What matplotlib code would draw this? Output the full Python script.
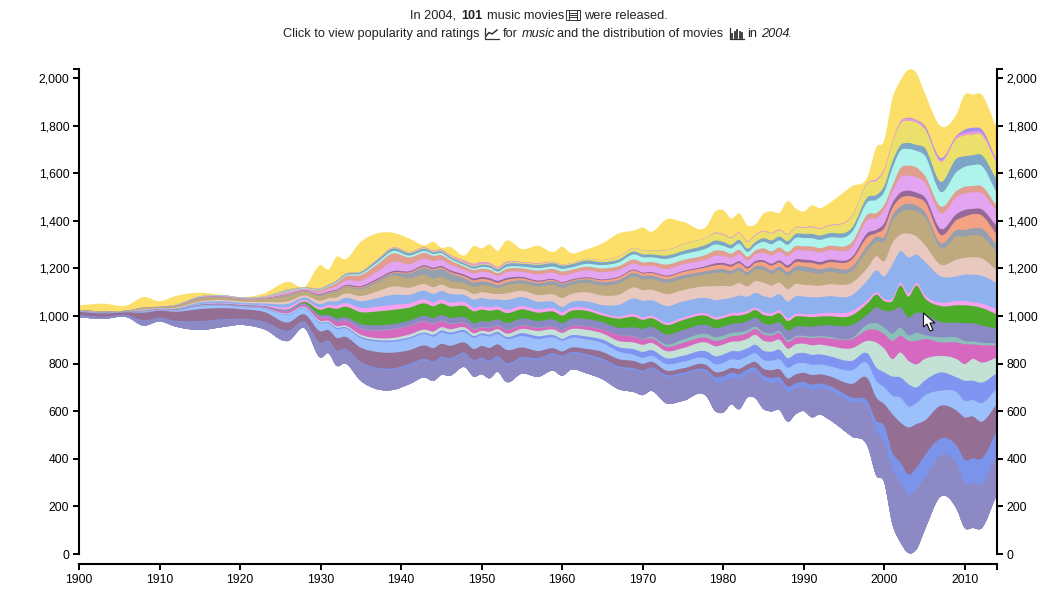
"""Streamgraph of movies released per genre, 1900-2014."""

import matplotlib

matplotlib.use("Agg")
import matplotlib.pyplot as plt  # noqa: E402
import numpy as np  # noqa: E402
from matplotlib.patches import PathPatch, Polygon, Rectangle  # noqa: E402
from matplotlib.path import Path  # noqa: E402
from matplotlib.transforms import Affine2D  # noqa: E402

W, H = 1058, 590
FONT = "Liberation Sans"

years = [1900, 1903, 1906, 1908, 1910, 1912, 1915, 1918, 1920, 1923,
         1926, 1928, 1930, 1931, 1932, 1933, 1935, 1937, 1939, 1941,
         1943, 1944, 1945, 1946, 1948, 1949, 1950, 1951, 1952, 1953,
         1955, 1957, 1959, 1960, 1961, 1963, 1965, 1967, 1969, 1970,
         1971, 1973, 1975, 1978, 1979, 1980, 1981, 1982, 1983, 1984,
         1985, 1986, 1987, 1988, 1989, 1990, 1991, 1992, 1993, 1996,
         1998, 1999, 2000, 2001, 2002, 2003, 2004, 2005, 2007, 2009,
         2010, 2011, 2012, 2014]

# all movies per year; the top band is whatever the others leave of this
totals = [50, 64, 50, 120, 84, 128, 156, 130, 114, 150,
          248, 140, 388, 352, 458, 436, 584, 654, 660, 612,
          556, 584, 534, 542, 472, 548, 528, 562, 508, 590,
          522, 550, 500, 542, 492, 520, 570, 654, 680, 704,
          668, 774, 752, 720, 836, 850, 780, 822, 724, 730,
          820, 840, 828, 926, 864, 838, 890, 866, 902, 1052,
          1144, 1376, 1436, 1784, 1938, 2030, 2000, 1840, 1556, 1660,
          1820, 1820, 1826, 1534]

purple = [8, 8, 8, 20, 14, 22, 35, 30, 24, 30,
          40, 25, 58, 50, 62, 58, 75, 85, 84, 78,
          72, 75, 70, 68, 55, 64, 62, 68, 58, 72,
          62, 70, 68, 80, 68, 72, 78, 88, 92, 95,
          90, 110, 108, 100, 122, 127, 110, 125, 100, 110,
          120, 118, 115, 122, 108, 100, 115, 110, 120, 143,
          165, 186, 165, 229, 250, 241, 253, 215, 171, 188,
          184, 191, 180, 174]
blue = [1, 1, 1, 2, 1, 2, 2, 2, 2, 2,
        3, 2, 3, 3, 3, 3, 4, 5, 6, 6,
        6, 6, 6, 6, 6, 6, 7, 7, 7, 7,
        7, 8, 6, 5, 6, 8, 8, 8, 8, 8,
        8, 9, 10, 12, 20, 25, 22, 22, 18, 18,
        20, 22, 22, 24, 22, 22, 22, 20, 20, 20,
        24, 42, 72, 70, 84, 88, 91, 98, 72, 77,
        102, 101, 112, 91]
mauve = [14, 14, 12, 32, 30, 38, 50, 46, 40, 40,
         34, 30, 48, 44, 52, 50, 60, 66, 66, 58,
         56, 56, 54, 52, 42, 46, 49, 52, 50, 55,
         40, 30, 20, 17, 18, 22, 28, 30, 30, 28,
         24, 18, 18, 20, 20, 21, 20, 22, 20, 24,
         28, 32, 33, 35, 37, 38, 40, 38, 40, 58,
         98, 98, 91, 161, 168, 198, 182, 147, 138, 147,
         178, 176, 157, 112]
light_blue = [1, 1, 1, 2, 2, 4, 12, 10, 9, 14,
              32, 25, 34, 30, 38, 36, 40, 44, 46, 48,
              48, 48, 48, 48, 44, 46, 46, 48, 44, 46,
              48, 50, 46, 45, 42, 40, 38, 32, 26, 25,
              25, 28, 28, 28, 33, 35, 36, 38, 34, 36,
              38, 40, 42, 45, 44, 42, 43, 42, 42, 57,
              63, 70, 70, 77, 105, 88, 88, 105, 63, 77,
              70, 69, 78, 65]
periwinkle = [1, 1, 1, 1, 1, 1, 1, 2, 2, 2,
              3, 3, 4, 4, 5, 5, 6, 6, 6, 6,
              6, 8, 8, 8, 8, 8, 7, 8, 8, 8,
              12, 12, 9, 8, 10, 12, 14, 18, 24, 25,
              24, 24, 25, 30, 34, 35, 34, 36, 34, 36,
              38, 38, 40, 40, 42, 42, 42, 42, 42, 40,
              42, 56, 63, 81, 84, 94, 66, 63, 77, 63,
              84, 81, 86, 65]
pale_green = [0, 0, 0, 1, 1, 1, 1, 1, 1, 1,
              4, 4, 6, 5, 6, 6, 8, 8, 10, 12,
              13, 14, 14, 14, 12, 12, 11, 12, 12, 14,
              18, 22, 24, 25, 26, 28, 26, 26, 28, 30,
              30, 30, 32, 38, 42, 42, 40, 42, 40, 42,
              42, 42, 42, 40, 40, 39, 40, 41, 42, 53,
              56, 105, 100, 73, 105, 98, 97, 91, 69, 77,
              70, 92, 85, 66]
magenta = [0, 0, 0, 1, 1, 1, 1, 2, 2, 3,
           8, 8, 14, 14, 18, 20, 25, 32, 36, 36,
           34, 32, 26, 22, 18, 16, 14, 15, 14, 16,
           14, 12, 11, 10, 12, 14, 16, 25, 24, 22,
           20, 18, 22, 20, 22, 21, 22, 24, 24, 24,
           26, 26, 28, 28, 28, 27, 30, 30, 32, 38,
           46, 53, 61, 77, 70, 84, 98, 84, 57, 70,
           83, 61, 72, 51]
teal = [0, 0, 0, 0, 0, 0, 0, 0, 0, 0,
        1, 1, 1, 1, 1, 1, 2, 2, 2, 2,
        2, 2, 2, 2, 2, 2, 2, 2, 2, 2,
        2, 2, 1, 1, 1, 1, 1, 1, 2, 3,
        6, 10, 14, 16, 16, 16, 15, 14, 12, 10,
        9, 8, 8, 8, 7, 6, 6, 6, 6, 5,
        24, 28, 28, 30, 35, 23, 35, 17, 21, 21,
        14, 12, 11, 9]
slate = [1, 1, 1, 2, 1, 2, 3, 3, 3, 4,
         6, 6, 10, 10, 14, 14, 18, 20, 20, 20,
         22, 22, 24, 24, 22, 24, 24, 25, 25, 26,
         28, 28, 30, 30, 30, 30, 30, 30, 38, 42,
         42, 42, 40, 38, 38, 38, 38, 38, 38, 38,
         38, 38, 38, 40, 40, 39, 42, 44, 48, 55,
         42, 66, 70, 96, 84, 76, 84, 88, 65, 62,
         75, 77, 73, 61]
green = [0, 0, 0, 0, 0, 0, 0, 0, 0, 0,
         1, 6, 22, 30, 40, 44, 50, 58, 60, 55,
         52, 50, 48, 48, 48, 50, 49, 46, 40, 42,
         38, 35, 33, 32, 33, 35, 28, 38, 44, 38,
         36, 40, 42, 38, 36, 36, 34, 32, 32, 32,
         36, 36, 38, 40, 42, 42, 40, 38, 38, 40,
         48, 54, 41, 41, 92, 86, 114, 69, 67, 73,
         75, 72, 74, 60]
pink = [0, 0, 0, 1, 1, 1, 2, 3, 3, 4,
        10, 8, 10, 12, 14, 15, 18, 20, 21, 18,
        17, 16, 16, 16, 16, 15, 14, 14, 14, 14,
        14, 14, 14, 14, 13, 12, 10, 8, 12, 10,
        10, 10, 10, 10, 10, 10, 11, 12, 11, 10,
        11, 12, 12, 12, 11, 10, 12, 13, 14, 18,
        14, 10, 10, 10, 11, 14, 12, 13, 14, 18,
        18, 16, 18, 21]
sky = [1, 1, 1, 3, 2, 4, 8, 8, 7, 8,
       14, 10, 14, 14, 18, 22, 28, 36, 42, 36,
       36, 36, 36, 36, 30, 34, 35, 34, 30, 40,
       38, 32, 26, 22, 24, 28, 34, 50, 66, 70,
       66, 70, 68, 65, 72, 70, 64, 72, 60, 62,
       68, 66, 68, 70, 74, 74, 72, 68, 70, 67,
       83, 92, 94, 143, 133, 151, 118, 140, 111, 104,
       111, 116, 117, 111]
blush = [1, 1, 1, 2, 1, 3, 4, 5, 5, 6,
         10, 8, 14, 14, 16, 18, 22, 28, 35, 30,
         28, 28, 27, 26, 22, 24, 24, 26, 22, 28,
         26, 28, 32, 38, 34, 38, 40, 42, 46, 45,
         44, 50, 48, 50, 58, 56, 50, 52, 44, 50,
         56, 50, 48, 52, 52, 49, 50, 48, 50, 52,
         53, 59, 63, 90, 69, 100, 76, 70, 49, 70,
         70, 73, 74, 53]
tan = [3, 3, 2, 6, 4, 6, 12, 10, 9, 12,
       22, 16, 20, 20, 22, 24, 28, 36, 46, 40,
       38, 36, 32, 30, 28, 30, 29, 30, 26, 34,
       30, 36, 40, 42, 38, 40, 42, 48, 46, 45,
       44, 48, 48, 50, 56, 56, 50, 52, 46, 48,
       54, 50, 52, 56, 56, 56, 54, 50, 52, 49,
       73, 62, 83, 91, 94, 101, 105, 118, 70, 97,
       90, 94, 93, 75]
grey = [0, 0, 0, 1, 1, 1, 2, 2, 1, 2,
        4, 3, 4, 4, 4, 4, 6, 8, 10, 20,
        30, 35, 34, 32, 20, 18, 17, 15, 12, 12,
        14, 14, 16, 16, 15, 14, 14, 14, 15, 15,
        15, 14, 14, 14, 14, 14, 14, 14, 14, 14,
        14, 14, 15, 16, 18, 21, 20, 19, 18, 18,
        20, 21, 19, 24, 25, 25, 25, 21, 20, 28,
        28, 28, 32, 32]
salmon = [0, 0, 0, 0, 0, 1, 1, 1, 1, 1,
          3, 2, 2, 2, 3, 3, 3, 3, 3, 4,
          5, 5, 6, 6, 8, 9, 10, 10, 10, 10,
          8, 6, 5, 4, 4, 5, 8, 10, 10, 10,
          11, 12, 14, 16, 18, 18, 18, 18, 14, 14,
          18, 20, 18, 18, 18, 17, 20, 20, 22, 31,
          35, 14, 37, 32, 35, 32, 33, 42, 35, 42,
          56, 59, 56, 42]
plum = [0, 0, 0, 0, 0, 0, 1, 1, 1, 1,
        2, 2, 3, 3, 4, 4, 5, 6, 6, 5,
        6, 6, 6, 7, 7, 8, 8, 8, 8, 8,
        6, 5, 4, 4, 4, 4, 4, 4, 4, 4,
        4, 4, 4, 6, 8, 8, 8, 8, 8, 8,
        8, 8, 9, 10, 11, 12, 11, 11, 11, 10,
        17, 14, 21, 21, 23, 23, 21, 20, 25, 25,
        28, 22, 25, 35]
lilac = [0, 0, 0, 1, 1, 1, 2, 2, 2, 3,
         6, 4, 8, 10, 14, 18, 22, 30, 39, 30,
         28, 28, 26, 24, 20, 21, 21, 22, 20, 24,
         22, 26, 26, 28, 26, 28, 30, 28, 26, 26,
         26, 28, 28, 28, 32, 30, 28, 30, 26, 28,
         32, 34, 36, 38, 38, 38, 40, 40, 40, 42,
         56, 49, 56, 48, 64, 63, 64, 63, 66, 72,
         69, 70, 68, 63]
rose = [0, 0, 0, 1, 0, 1, 1, 1, 1, 2,
        4, 3, 8, 10, 14, 18, 24, 30, 35, 28,
        24, 22, 20, 18, 14, 14, 14, 14, 12, 14,
        14, 16, 16, 17, 15, 16, 16, 16, 16, 16,
        16, 18, 18, 20, 22, 21, 18, 18, 16, 16,
        18, 18, 18, 18, 18, 18, 18, 18, 18, 21,
        22, 21, 21, 24, 38, 42, 42, 28, 28, 25,
        28, 26, 29, 21]
aqua = [0, 0, 0, 0, 0, 1, 1, 1, 1, 1,
        3, 2, 3, 3, 4, 4, 6, 8, 10, 8,
        8, 8, 8, 7, 6, 6, 7, 8, 7, 8,
        8, 10, 10, 11, 10, 12, 14, 16, 22, 22,
        20, 24, 24, 26, 26, 21, 22, 26, 20, 22,
        28, 30, 30, 30, 34, 35, 35, 35, 35, 42,
        52, 56, 55, 74, 74, 70, 70, 84, 62, 80,
        84, 88, 87, 55]
steel = [0, 0, 0, 0, 0, 1, 1, 1, 1, 1,
         3, 2, 3, 3, 4, 5, 6, 10, 11, 10,
         9, 8, 8, 8, 8, 9, 10, 10, 10, 12,
         12, 14, 14, 14, 13, 14, 12, 12, 12, 12,
         12, 14, 14, 16, 16, 16, 15, 16, 14, 14,
         15, 16, 16, 16, 17, 17, 18, 18, 18, 18,
         20, 20, 24, 28, 23, 25, 25, 32, 42, 56,
         44, 42, 44, 56]
khaki = [0, 0, 0, 0, 0, 0, 1, 1, 1, 1,
         2, 2, 1, 1, 1, 1, 2, 2, 3, 3,
         3, 3, 3, 3, 3, 3, 3, 3, 3, 4,
         4, 4, 4, 4, 4, 6, 8, 12, 14, 15,
         16, 22, 28, 30, 30, 30, 28, 28, 28, 28,
         28, 28, 26, 26, 25, 25, 28, 28, 30, 47,
         59, 60, 64, 76, 91, 93, 93, 79, 84, 83,
         88, 87, 85, 67]
thin_pink = [0, 0, 0, 0, 0, 0, 0, 0, 0, 0,
             1, 0, 1, 1, 1, 1, 1, 1, 2, 2,
             3, 3, 4, 4, 8, 8, 8, 7, 6, 6,
             3, 3, 2, 1, 1, 1, 1, 1, 1, 1,
             1, 1, 1, 1, 3, 3, 3, 3, 3, 3,
             3, 3, 3, 3, 3, 3, 3, 3, 3, 3,
             3, 6, 6, 5, 8, 10, 10, 6, 8, 10,
             10, 12, 10, 10]
violet = [0, 0, 0, 0, 0, 0, 0, 0, 0, 0,
          0, 0, 0, 0, 0, 0, 0, 0, 0, 0,
          0, 0, 0, 0, 0, 0, 0, 0, 0, 0,
          0, 0, 0, 0, 0, 0, 0, 0, 0, 0,
          0, 0, 0, 0, 0, 0, 0, 0, 0, 0,
          0, 0, 0, 0, 0, 0, 0, 0, 0, 0,
          0, 0, 0, 0, 0, 3, 2, 8, 8, 4,
          14, 16, 14, 3]

bands = [purple, blue, mauve, light_blue, periwinkle, pale_green, magenta,
         teal, slate, green, pink, sky, blush, tan, grey, salmon, plum,
         lilac, rose, aqua, steel, khaki, thin_pink, violet]
colors = ["#8d89c4", "#7b93e9", "#946e93", "#9cc0fb", "#8095f1", "#c3e1d5",
          "#d768c0", "#8cbfb9", "#8b89c4", "#4cab28", "#f9a0ee", "#8fb2ee",
          "#e9c8c0", "#bfaa80", "#959fae", "#f3a284", "#97699a", "#e3a5f2",
          "#e19d90", "#aef4ec", "#7da5c5", "#ebe06c", "#e69ad8", "#a58ef0",
          "#fbdf68"]


def smooth_segments(x, y):
    """Bezier control points that run a smooth curve through the knots."""
    slope = np.gradient(y, x)
    verts = []
    for i in range(len(x) - 1):
        dx = (x[i + 1] - x[i]) / 3
        verts.append((x[i] + dx, y[i] + slope[i] * dx))
        verts.append((x[i + 1] - dx, y[i + 1] - slope[i + 1] * dx))
        verts.append((x[i + 1], y[i + 1]))
    return verts


def band_path(x, low, high):
    verts = [(x[0], high[0])] + smooth_segments(x, high)
    codes = [Path.MOVETO] + [Path.CURVE4] * (3 * (len(x) - 1))
    verts.append((x[-1], low[-1]))
    codes.append(Path.LINETO)
    verts += smooth_segments(x[::-1], low[::-1])
    codes += [Path.CURVE4] * (3 * (len(x) - 1))
    verts.append((x[0], high[0]))
    codes.append(Path.CLOSEPOLY)
    return Path(verts, codes)


fig = plt.figure(figsize=(W / 100, H / 100), dpi=100)
ax = fig.add_axes([79 / W, (H - 564) / H, 918 / W, 495 / H])

x = np.array(years, dtype=float)
values = np.array(bands, dtype=float)
total = np.array(totals, dtype=float)
top_band = np.clip(total - values.sum(axis=0), 0, None)
values = np.vstack([values, top_band])

# silhouette around the middle of the tallest year
baseline = 1020 - total / 2
edges = baseline + np.cumsum(values, axis=0)

# painted top band first, each one reaching down to the baseline, so no seams
for i in range(len(edges) - 1, -1, -1):
    ax.add_patch(PathPatch(band_path(x, baseline, edges[i]),
                           facecolor=colors[i], edgecolor="none", lw=0))

AXIS_TOP = 2038
ax.set_xlim(1900, 2014)
ax.set_ylim(-42, AXIS_TOP)

xticks = list(range(1900, 2011, 10))
ax.set_xticks(xticks + [2014], [str(t) for t in xticks] + [""])
yticks = list(range(0, 2001, 200))
ylabels = [f"{t:,}" for t in yticks]
ax.set_yticks(yticks + [AXIS_TOP], ylabels + [""])

ax.spines["top"].set_visible(False)
for side in ("left", "right"):
    ax.spines[side].set_bounds(0, AXIS_TOP)
    ax.spines[side].set_linewidth(1.5)
ax.spines["bottom"].set_linewidth(1.5)
ax.tick_params(axis="both", length=4.5, width=1.4, labelsize=8.7, pad=2.5)
ax.tick_params(axis="y", right=True, labelright=True, left=True)
for lab in ax.get_xticklabels() + ax.get_yticklabels():
    lab.set_fontfamily(FONT)
for tick in ax.yaxis.get_major_ticks():
    tick.label2.set_fontfamily(FONT)

# header runs and icons are placed in screen pixels
px = Affine2D().scale(1 / W, -1 / H).translate(0, 1) + fig.transFigure


def word(xp, yp, s, **kw):
    fig.text(xp, yp, s, transform=px, fontsize=9.15, family=FONT, color="#222222",
             va="baseline", ha="left", **kw)


word(410, 19, "In 2004,")
word(461, 19, "101", fontweight="bold")
word(487, 19, "music movies")
word(584, 19, "were released.")
word(283, 37, "Click to view popularity and ratings")
word(503, 37, "for")
word(522, 37, "music", fontstyle="italic")
word(557, 37, "and the distribution of movies")
word(747, 37, "in")
word(761, 37, "2004", fontstyle="italic")
word(788, 37, ".")

INK = "#333333"
# film strip
fig.add_artist(Rectangle((565.5, 9.5), 14, 10, transform=px, fill=False, ec=INK, lw=0.7))
for xp in (568.5, 576.5):
    fig.add_artist(plt.Line2D([xp, xp], [9.5, 19.5], transform=px, color=INK, lw=0.7))
for yp in (12.5, 14.5, 16.5):
    fig.add_artist(plt.Line2D([568.5, 576.5], [yp, yp], transform=px, color=INK, lw=0.7))
# line chart
fig.add_artist(plt.Line2D([484.5, 484.5, 498.5], [28, 38.5, 38.5], transform=px, color=INK, lw=0.9))
fig.add_artist(plt.Line2D([486, 489, 492, 497], [36, 32.5, 34, 30], transform=px, color=INK, lw=1.1))
# bar chart
fig.add_artist(plt.Line2D([729.5, 729.5, 743.5], [28, 38.5, 38.5], transform=px, color=INK, lw=0.9))
for xp, h in zip((732, 734.5, 737, 739.5, 742), (4, 6, 8, 6, 5)):
    fig.add_artist(plt.Line2D([xp, xp], [37.5, 37.5 - h], transform=px, color=INK, lw=1.3))

# mouse pointer
fig.add_artist(Polygon([(923.5, 313), (923.5, 327), (927, 324), (930, 331), (933, 330),
                       (930, 323), (935, 323)],
                       closed=True, transform=px, fc="white", ec="#111111", lw=0.8))

fig.savefig("out.png", dpi=100)
plt.close(fig)
